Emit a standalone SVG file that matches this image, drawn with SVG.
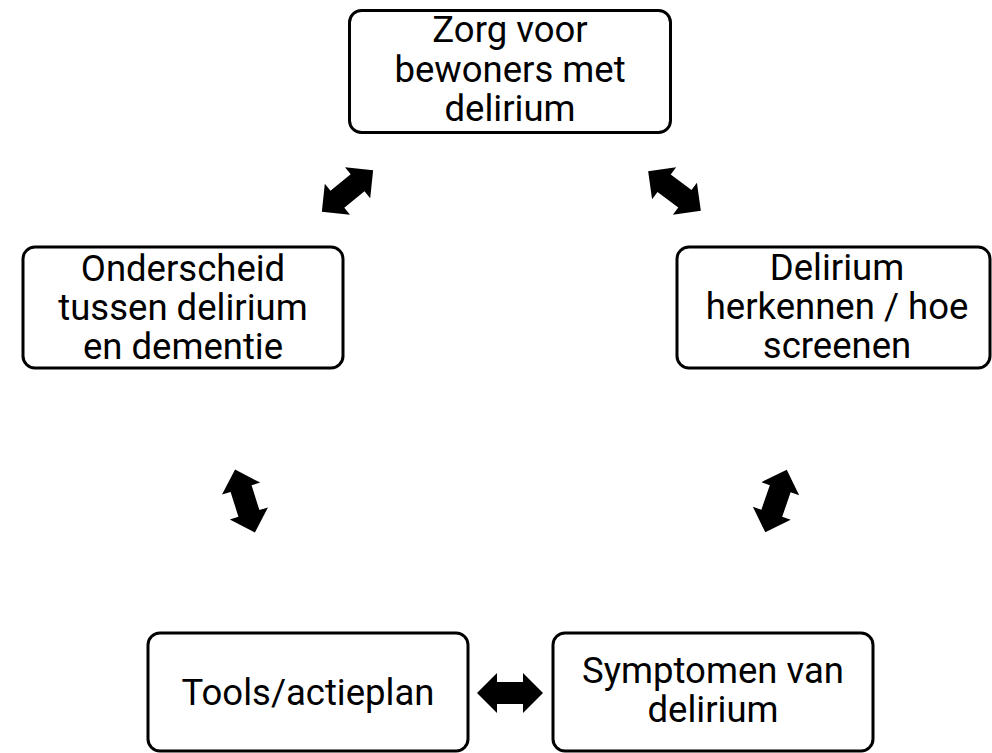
<svg xmlns="http://www.w3.org/2000/svg" width="992" height="753" viewBox="0 0 992 753">
  <style>
    .box { fill: #ffffff; stroke: #000000; stroke-width: 3; }
    .label { font-family: Roboto, "Liberation Sans", sans-serif; font-size: 36.5px; font-weight: 400; fill: #000000; text-anchor: middle; }
    .arrow { fill: #000000; }
  </style>
  <defs>
    <!-- block double arrow, horizontal, centred on the origin -->
    <path id="dbl-arrow" class="arrow" d="M -33 0 L -13 -20 L -13 -11 L 13 -11 L 13 -20 L 33 0 L 13 20 L 13 11 L -13 11 L -13 20 Z"/>
  </defs>
  <rect width="992" height="753" fill="#ffffff"/>

  <g id="connectors">
    <use href="#dbl-arrow" transform="translate(347.5 191) rotate(-39)"/>
    <use href="#dbl-arrow" transform="translate(674.5 191) rotate(37)"/>
    <use href="#dbl-arrow" transform="translate(245 501) rotate(72.5)"/>
    <use href="#dbl-arrow" transform="translate(776 501) rotate(-71)"/>
    <use href="#dbl-arrow" transform="translate(510 693)"/>
  </g>

  <g id="node-zorg">
    <rect class="box" x="349.5" y="10.5" width="321" height="122" rx="12"/>
    <text class="label" x="510" y="42">Zorg voor</text>
    <text class="label" x="510" y="82">bewoners met</text>
    <text class="label" x="510" y="121">delirium</text>
  </g>

  <g id="node-onderscheid">
    <rect class="box" x="23" y="247" width="320" height="121" rx="12"/>
    <text class="label" x="183" y="281">Onderscheid</text>
    <text class="label" x="183" y="320">tussen delirium</text>
    <text class="label" x="183" y="359">en dementie</text>
  </g>

  <g id="node-herkennen">
    <rect class="box" x="677" y="247" width="313" height="121" rx="12"/>
    <text class="label" x="837" y="280">Delirium</text>
    <text class="label" x="837" y="319">herkennen / hoe</text>
    <text class="label" x="837" y="358">screenen</text>
  </g>

  <g id="node-tools">
    <rect class="box" x="148" y="633" width="320" height="118" rx="12"/>
    <text class="label" x="308" y="705">Tools/actieplan</text>
  </g>

  <g id="node-symptomen">
    <rect class="box" x="553" y="633" width="320" height="118" rx="12"/>
    <text class="label" x="713" y="683">Symptomen van</text>
    <text class="label" x="713" y="722">delirium</text>
  </g>
</svg>
